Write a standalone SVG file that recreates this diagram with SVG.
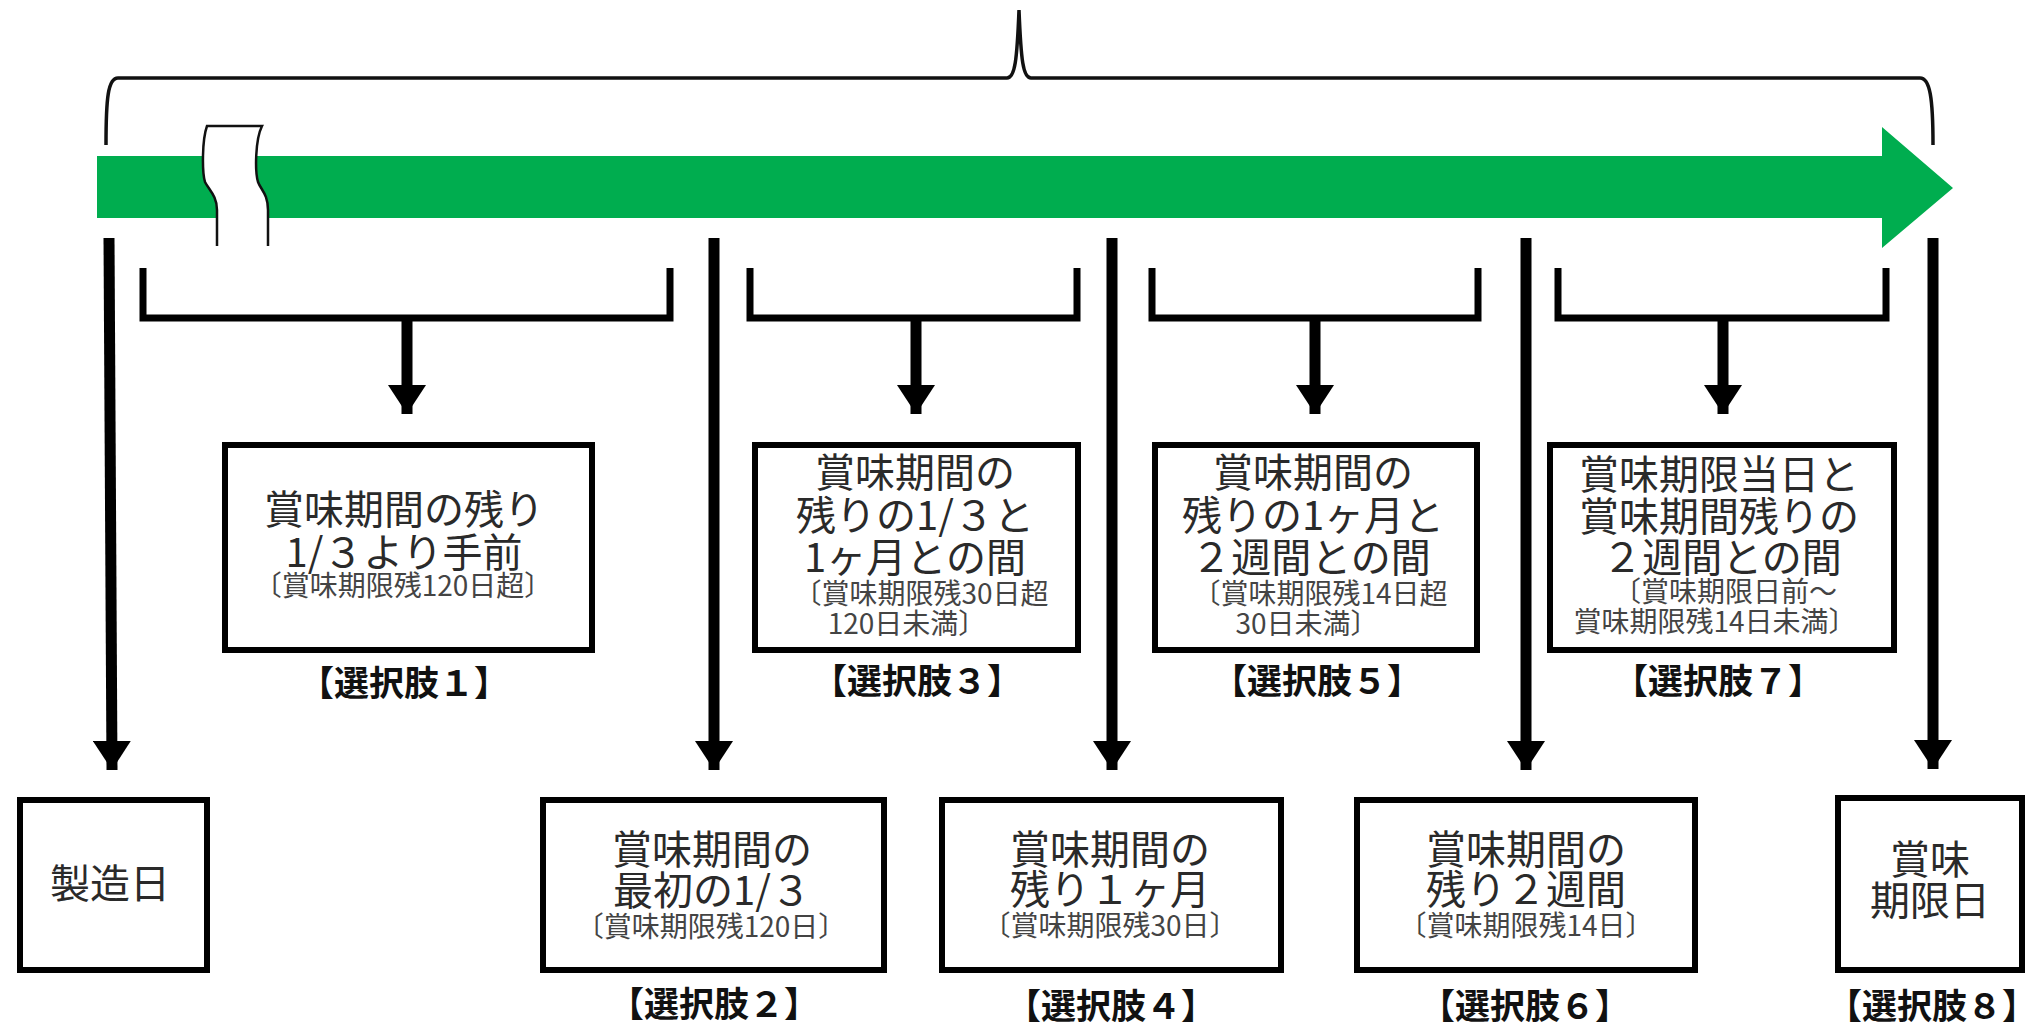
<svg xmlns="http://www.w3.org/2000/svg" width="2025" height="1030" viewBox="0 0 2025 1030">
<style>
.box{fill:#fff;stroke:#000;stroke-width:6}
.t{font-family:"Noto Sans CJK JP","Noto Sans CJK SC",sans-serif;font-size:40px;fill:#2a2a2a;text-anchor:middle;dominant-baseline:central}
.s{font-family:"Noto Sans CJK JP","Noto Sans CJK SC",sans-serif;font-size:28px;fill:#444;text-anchor:middle;dominant-baseline:central}
.lab{font-family:"Noto Sans CJK JP","Noto Sans CJK SC",sans-serif;font-size:35px;font-weight:bold;fill:#111;text-anchor:middle;dominant-baseline:central}
.tall{stroke:#000;stroke-width:11;fill:none}
.br{stroke:#000;stroke-width:7;fill:none;stroke-linejoin:miter}
</style>
<defs>
<marker id="ah" markerUnits="userSpaceOnUse" markerWidth="30" markerHeight="38" refX="29" refY="19" orient="auto" viewBox="0 0 30 38">
<path d="M0,0 L29,19 L0,38 Z" fill="#000"/>
</marker>
</defs>
<rect width="2025" height="1030" fill="#fff"/>
<g id="timeline">
<path d="M97,156 H1882 V127 L1953,188 L1882,248 V218 H97 Z" fill="#00ad4f"/>
<path d="M207,126 L262,126 C255,140 255,172 258,182 C261,190 268,194 268,210 L268,246 L217,246 L217,210 C217,196 209,190 205,182 C202,172 202,140 207,126 Z" fill="#fff"/>
<path d="M217,246 L217,210 C217,196 209,190 205,182 C202,172 202,140 207,126 L262,126 C255,140 255,172 258,182 C261,190 268,194 268,210 L268,246" fill="none" stroke="#111" stroke-width="2.5"/>
</g>
<g id="brace">
<path d="M106,145 C106,98 108,78 118,78 L1007,78 C1015,78 1017,60 1019,10 C1021,60 1023,78 1031,78 L1920,78 C1930,78 1933,98 1933,145" fill="none" stroke="#111" stroke-width="3.5"/>
</g>
<g id="connectors">
<path class="br" d="M143,268 V318 H670 V268"/>
<path class="br" d="M750,268 V318 H1077 V268"/>
<path class="br" d="M1152,268 V318 H1478 V268"/>
<path class="br" d="M1558,268 V318 H1886 V268"/>
<path class="tall" d="M407,318 V414" marker-end="url(#ah)"/>
<path class="tall" d="M916,318 V414" marker-end="url(#ah)"/>
<path class="tall" d="M1315,318 V414" marker-end="url(#ah)"/>
<path class="tall" d="M1723,318 V414" marker-end="url(#ah)"/>
<path class="tall" d="M109,238 L112,770" marker-end="url(#ah)"/>
<path class="tall" d="M714,238 V770" marker-end="url(#ah)"/>
<path class="tall" d="M1112,238 V770" marker-end="url(#ah)"/>
<path class="tall" d="M1526,238 V770" marker-end="url(#ah)"/>
<path class="tall" d="M1933,238 V769" marker-end="url(#ah)"/>
</g>
<g id="opt1">
<rect class="box" x="225" y="445" width="367" height="205"/>
<text class="t" x="404" y="507">賞味期間の残り</text>
<text class="t" x="404" y="550">1/３より手前</text>
<text class="s" x="403" y="584">〔賞味期限残120日超〕</text>
<text class="lab" x="404" y="680">【選択肢１】</text>
</g>
<g id="opt3">
<rect class="box" x="755" y="445" width="323" height="205"/>
<text class="t" x="915" y="470">賞味期間の</text>
<text class="t" x="915" y="513">残りの1/３と</text>
<text class="t" x="915" y="555">1ヶ月との間</text>
<text class="s" x="921" y="592">〔賞味期限残30日超</text>
<text class="s" x="907" y="622">120日未満〕</text>
<text class="lab" x="917" y="678">【選択肢３】</text>
</g>
<g id="opt5">
<rect class="box" x="1155" y="445" width="322" height="205"/>
<text class="t" x="1313" y="470">賞味期間の</text>
<text class="t" x="1313" y="513">残りの1ヶ月と</text>
<text class="t" x="1311" y="555">２週間との間</text>
<text class="s" x="1320" y="592">〔賞味期限残14日超</text>
<text class="s" x="1307" y="622">30日未満〕</text>
<text class="lab" x="1317" y="678">【選択肢５】</text>
</g>
<g id="opt7">
<rect class="box" x="1550" y="445" width="344" height="205"/>
<text class="t" x="1719" y="472">賞味期限当日と</text>
<text class="t" x="1719" y="514">賞味期間残りの</text>
<text class="t" x="1722" y="555">２週間との間</text>
<text class="s" x="1725" y="590">〔賞味期限日前～</text>
<text class="s" x="1715" y="620">賞味期限残14日未満〕</text>
<text class="lab" x="1718" y="678">【選択肢７】</text>
</g>
<g id="mfg">
<rect class="box" x="20" y="800" width="187" height="170"/>
<text class="t" x="110" y="881">製造日</text>
</g>
<g id="opt2">
<rect class="box" x="543" y="800" width="341" height="170"/>
<text class="t" x="712" y="847">賞味期間の</text>
<text class="t" x="712" y="888">最初の1/３</text>
<text class="s" x="711" y="925">〔賞味期限残120日〕</text>
<text class="lab" x="714" y="1001">【選択肢２】</text>
</g>
<g id="opt4">
<rect class="box" x="942" y="800" width="339" height="170"/>
<text class="t" x="1110" y="847">賞味期間の</text>
<text class="t" x="1110" y="887">残り１ヶ月</text>
<text class="s" x="1110" y="924">〔賞味期限残30日〕</text>
<text class="lab" x="1111" y="1003">【選択肢４】</text>
</g>
<g id="opt6">
<rect class="box" x="1357" y="800" width="338" height="170"/>
<text class="t" x="1526" y="847">賞味期間の</text>
<text class="t" x="1526" y="887">残り２週間</text>
<text class="s" x="1526" y="924">〔賞味期限残14日〕</text>
<text class="lab" x="1525" y="1003">【選択肢６】</text>
</g>
<g id="opt8">
<rect class="box" x="1838" y="798" width="184" height="172"/>
<text class="t" x="1930" y="857">賞味</text>
<text class="t" x="1930" y="898">期限日</text>
<text class="lab" x="1932" y="1003">【選択肢８】</text>
</g>
</svg>
